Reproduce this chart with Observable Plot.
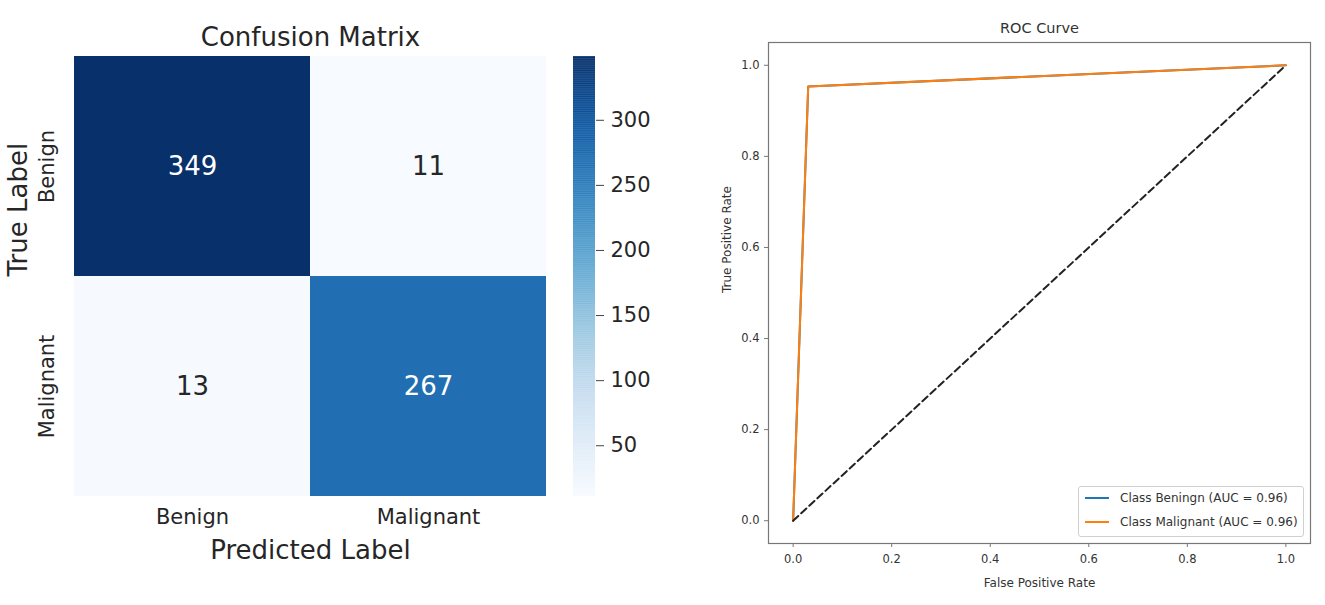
<!DOCTYPE html>
<html>
<head>
<meta charset="utf-8">
<script src="https://cdn.jsdelivr.net/npm/d3@7"></script>
<script src="https://cdn.jsdelivr.net/npm/@observablehq/plot@0.6"></script>
<style>
  html, body { margin: 0; padding: 0; background: #fff; }
  #root { position: relative; width: 1325px; height: 605px; overflow: hidden; background: #fff; }
  .panel { position: absolute; top: 0; }
  #legend {
    position: absolute; left: 1078px; top: 486px; width: 226px; height: 51px;
    border: 1px solid #d0d0d0; border-radius: 3px; background: rgba(255,255,255,0.85);
    font-family: "DejaVu Sans", sans-serif; font-size: 12px; color: #333; box-sizing: border-box;
  }
  #legend .row { position: absolute; left: 6px; display: flex; align-items: center; white-space: nowrap; }
  #legend .sw { width: 24px; height: 2px; margin-right: 11px; }
</style>
</head>
<body>
<div id="root">
  <div id="cm" class="panel" style="left:0px"></div>
  <div id="cbar" class="panel" style="left:560px"></div>
  <div id="roc" class="panel" style="left:700px"></div>
  <div id="legend"></div>
</div>
<script>
// ---------------- Data ----------------
const predictedLabels = ["Benign", "Malignant"];
const trueLabels = ["Benign", "Malignant"];
const countsBenignRow = [349, 11];
const countsMalignantRow = [13, 267];
const colorbarTicks = [50, 100, 150, 200, 250, 300];
const colorDomain = [11, 349];

const fprBenign = [0, 0.0306, 1];
const tprBenign = [0, 0.9536, 1];
const fprMalignant = [0, 0.0306, 1];
const tprMalignant = [0, 0.9536, 1];
const chanceLine = [0, 1];
const rocTicks = [0, 0.2, 0.4, 0.6, 0.8, 1.0];
const legendLabels = ["Class Beningn (AUC = 0.96)", "Class Malignant (AUC = 0.96)"];
const seriesColors = ["#1f77b4", "#ff7f0e"];

// ---------------- Confusion matrix ----------------
const countRows = [countsBenignRow, countsMalignantRow];
const cmData = trueLabels.flatMap((t, i) =>
  predictedLabels.map((p, j) => ({ actual: t, predicted: p, count: countRows[i][j] })));

const ink = "#262626";
const cm = Plot.plot({
  width: 560, height: 605,
  marginLeft: 74, marginRight: 14, marginTop: 56, marginBottom: 109,
  x: { domain: predictedLabels, padding: 0 },
  y: { domain: trueLabels, padding: 0 },
  color: { type: "linear", scheme: "blues", domain: colorDomain },
  style: { fontFamily: "DejaVu Sans", fontSize: "21px", color: ink, background: "transparent" },
  marks: [
    Plot.cell(cmData, { x: "predicted", y: "actual", fill: "count", inset: 0 }),
    Plot.text(cmData, {
      x: "predicted", y: "actual", text: d => String(d.count), fontSize: 26,
      fill: d => (d.count > 180 ? "white" : ink)
    }),
    Plot.axisX({ tickSize: 0, tickPadding: 13, fontSize: 21, label: null }),
    Plot.axisY({ tickSize: 0, tickPadding: 21, tickRotate: -90, fontSize: 21, label: null }),
    Plot.text(["Confusion Matrix"], { text: d => d, frameAnchor: "top", lineAnchor: "bottom", dy: -11, fontSize: 26, fill: ink }),
    Plot.text(["Predicted Label"], { text: d => d, frameAnchor: "bottom", lineAnchor: "middle", dy: 54, fontSize: 26, fill: ink }),
    Plot.text(["True Label"], { text: d => d, frameAnchor: "left", rotate: -90, lineAnchor: "middle", dx: -56, fontSize: 26, fill: ink })
  ]
});
document.getElementById("cm").appendChild(cm);

// ---------------- Colorbar ----------------
const step = 0.5;
const gradient = d3.range(colorDomain[0], colorDomain[1], step);
const cbar = Plot.plot({
  width: 120, height: 605,
  marginLeft: 13, marginRight: 85, marginTop: 56, marginBottom: 109,
  y: { domain: colorDomain },
  color: { type: "linear", scheme: "blues", domain: colorDomain },
  style: { fontFamily: "DejaVu Sans", fontSize: "21px", color: ink, background: "transparent" },
  marks: [
    Plot.rect(gradient, { y1: d => d, y2: d => Math.min(d + step * 1.5, colorDomain[1]), fill: d => d + step / 2 }),
    Plot.axisY({ anchor: "right", ticks: colorbarTicks, tickSize: 8, tickPadding: 7, fontSize: 21, label: null, stroke: "#444" })
  ]
});
document.getElementById("cbar").appendChild(cbar);

// ---------------- ROC curve ----------------
const benign = fprBenign.map((x, i) => ({ x, y: tprBenign[i] }));
const malignant = fprMalignant.map((x, i) => ({ x, y: tprMalignant[i] }));
const chance = chanceLine.map(v => ({ x: v, y: v }));
const rocInk = "#333";
const roc = Plot.plot({
  width: 625, height: 605,
  marginLeft: 68, marginRight: 15, marginTop: 42, marginBottom: 62,
  x: { domain: [-0.05, 1.05] },
  y: { domain: [-0.05, 1.05] },
  style: { fontFamily: "DejaVu Sans", fontSize: "11.5px", color: rocInk, background: "transparent" },
  marks: [
    Plot.line(benign, { x: "x", y: "y", stroke: seriesColors[0], strokeWidth: 2 }),
    Plot.line(malignant, { x: "x", y: "y", stroke: seriesColors[1], strokeWidth: 2 }),
    Plot.line(chance, { x: "x", y: "y", stroke: "#222", strokeWidth: 2, strokeDasharray: "7,4" }),
    Plot.frame({ stroke: "#777", strokeWidth: 1.2 }),
    Plot.axisX({ ticks: rocTicks, tickFormat: d3.format(".1f"), tickSize: 4, tickPadding: 7, label: null, stroke: "#777" }),
    Plot.axisY({ ticks: rocTicks, tickFormat: d3.format(".1f"), tickSize: 4, tickPadding: 5, label: null, stroke: "#777" }),
    Plot.text(["ROC Curve"], { text: d => d, frameAnchor: "top", lineAnchor: "bottom", dy: -10, fontSize: 14.5, fill: rocInk }),
    Plot.text(["False Positive Rate"], { text: d => d, frameAnchor: "bottom", lineAnchor: "middle", dy: 40, fontSize: 12, fill: rocInk }),
    Plot.text(["True Positive Rate"], { text: d => d, frameAnchor: "left", rotate: -90, lineAnchor: "middle", dx: -41, fontSize: 12, fill: rocInk })
  ]
});
document.getElementById("roc").appendChild(roc);

// ---------------- Legend ----------------
const legend = document.getElementById("legend");
legendLabels.forEach((label, i) => {
  const row = document.createElement("div");
  row.className = "row";
  row.style.top = (4 + i * 24) + "px";
  const sw = document.createElement("span");
  sw.className = "sw";
  sw.style.background = seriesColors[i];
  const tx = document.createElement("span");
  tx.textContent = label;
  row.appendChild(sw);
  row.appendChild(tx);
  legend.appendChild(row);
});
</script>
</body>
</html>
